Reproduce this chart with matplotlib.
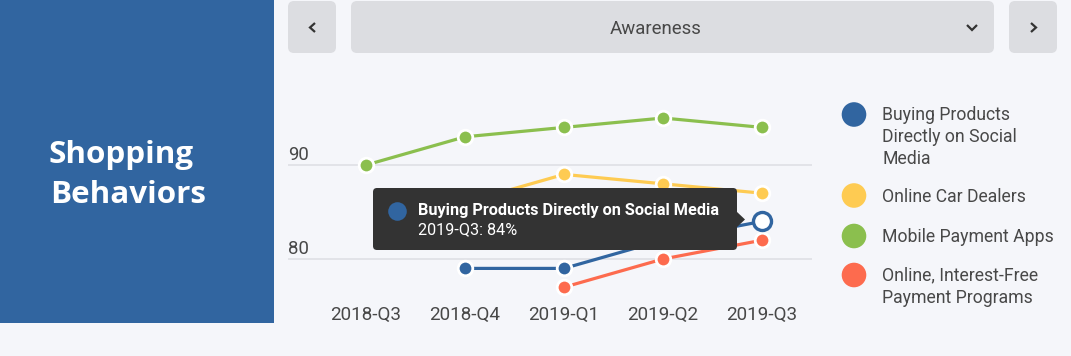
import numpy as np
import matplotlib
matplotlib.use("Agg")
import matplotlib.pyplot as plt
from matplotlib.patches import FancyBboxPatch, Rectangle, Polygon, Circle

# ---------------- data ----------------
quarters = ["2018-Q3", "2018-Q4", "2019-Q1", "2019-Q2", "2019-Q3"]
series_names = ["Buying Products Directly on Social Media", "Online Car Dealers",
                "Mobile Payment Apps", "Online, Interest-Free Payment Programs"]
social_media = [np.nan, 79, 79, 82, 84]
car_dealers = [np.nan, 86, 89, 88, 87]
payment_apps = [90, 93, 94, 95, 94]
interest_free = [np.nan, np.nan, 77, 80, 82]
y_ticks = [80, 90]
legend_lines = [["Buying Products", "Directly on Social", "Media"],
                ["Online Car Dealers"],
                ["Mobile Payment Apps"],
                ["Online, Interest-Free", "Payment Programs"]]
panel_title = ["Shopping", "Behaviors"]
dropdown_label = "Awareness"
tooltip_title = "Buying Products Directly on Social Media"
tooltip_value = "2019-Q3: 84%"
hover_index = 4

# ---------------- style ----------------
BG = "#f5f6fa"
PANEL = "#3165a0"
BTN = "#dcdde1"
TXT = "#484848"
GRID = "#dfe0e5"
colors = ["#3165a0", "#fecb52", "#8bbf4e", "#fd6b4e"]
FONT = "Roboto"

W, H = 1071, 356
fig = plt.figure(figsize=(W / 100, H / 100), dpi=100, facecolor=BG)

# background pixel axes
bg = fig.add_axes([0, 0, 1, 1], zorder=0)
bg.set_xlim(0, W); bg.set_ylim(H, 0); bg.axis("off")
bg.set_facecolor(BG)

# left panel
bg.add_patch(Rectangle((0, 0), 274, 323, facecolor=PANEL, edgecolor="none"))
bg.text(49, 162.5, panel_title[0], color="white", fontsize=22.6, fontweight="bold",
        family="Open Sans", ha="left", va="baseline")
bg.text(50, 203, panel_title[1], color="white", fontsize=22.6, fontweight="bold",
        family="Open Sans", ha="left", va="baseline")

# buttons
def rbox(x0, y0, x1, y1, r=6, color=BTN):
    bg.add_patch(FancyBboxPatch((x0, y0), x1 - x0, y1 - y0,
                                boxstyle=f"round,pad=0,rounding_size={r}",
                                facecolor=color, edgecolor="none"))

rbox(288, 1, 336, 53)
rbox(351, 1, 994, 53)
rbox(1009, 1, 1057, 53)
ck = dict(color="#333333", lw=1.6, solid_capstyle="butt", solid_joinstyle="miter")
bg.plot([315, 310, 315], [23, 27.5, 32], **ck)
bg.plot([1031, 1036, 1031], [23, 27.5, 32], **ck)
bg.plot([967, 972, 977], [25, 30, 25], **ck)
bg.text(656, 34, dropdown_label, color=TXT, fontsize=13.4, family=FONT,
        ha="center", va="baseline")

# ---------------- chart axes ----------------
x0_px, step = 366, 99
gx0, gx1 = 288, 812
ytop, ybot = 85, 300
y90, ppu = 165, 9.4
ax = fig.add_axes([gx0 / W, 1 - ybot / H, (gx1 - gx0) / W, (ybot - ytop) / H], zorder=1)
ax.patch.set_alpha(0)
ax.set_xlim((gx0 - x0_px) / step, (gx1 - x0_px) / step)
ax.set_ylim(90 - (ybot - y90) / ppu, 90 + (y90 - ytop) / ppu)
for s in ax.spines.values():
    s.set_visible(False)
ax.set_yticks([])
ax.set_xticks(range(len(quarters)))
ax.set_xticklabels(quarters, fontsize=13.6, family=FONT, color=TXT)
ax.tick_params(axis="x", length=0, pad=4)
for v in y_ticks:
    ax.axhline(v, color=GRID, lw=1.2, zorder=0)
    ax.annotate(str(v), xy=(0, v), xycoords=("axes fraction", "data"),
                xytext=(0, 3.8), textcoords="offset points", ha="left",
                va="baseline", fontsize=13.4, family=FONT, color=TXT)

xs = np.arange(len(quarters))
all_series = [social_media, car_dealers, payment_apps, interest_free]
draw_order = [2, 1, 0, 3]
for i in draw_order:
    ys = np.array(all_series[i], dtype=float)
    ax.plot(xs, ys, color=colors[i], lw=2.3, zorder=2 + i * 0.1,
            marker="o", markersize=10.5, markerfacecolor=colors[i],
            markeredgecolor="white", markeredgewidth=2.0)

# hovered point
ax.plot([xs[hover_index]], [social_media[hover_index]], marker="o", markersize=13,
        markerfacecolor="white", markeredgecolor=colors[0], markeredgewidth=2.4,
        zorder=4, linestyle="none")

# ---------------- overlay (tooltip + legend) ----------------
ov = fig.add_axes([0, 0, 1, 1], zorder=5)
ov.set_xlim(0, W); ov.set_ylim(H, 0); ov.axis("off")
ov.patch.set_alpha(0)

ov.add_patch(FancyBboxPatch((373, 188), 737 - 373, 250 - 188,
                            boxstyle="round,pad=0,rounding_size=4",
                            facecolor="#333333", edgecolor="none"))
ov.add_patch(Polygon([(736, 211), (745, 219.5), (736, 228)], closed=True,
                     facecolor="#333333", edgecolor="none"))
ov.add_patch(Circle((397.5, 211.5), 9.3, facecolor=colors[0], edgecolor="none"))
ov.text(418.5, 215, tooltip_title, color="white", fontsize=11.7, fontweight="bold",
        family=FONT, ha="left", va="baseline")
ov.text(418.5, 234.5, tooltip_value, color="white", fontsize=11.7,
        family=FONT, ha="left", va="baseline")

legend_circle_y = [114.5, 195.5, 236, 275]
legend_baselines = [[119.5, 141.7, 164], [202], [241.7], [280.7, 302.7]]
for i in range(len(series_names)):
    ov.add_patch(Circle((854, legend_circle_y[i]), 12.3, facecolor=colors[i],
                        edgecolor="none"))
    for line, by in zip(legend_lines[i], legend_baselines[i]):
        ov.text(882.5, by, line, color=TXT, fontsize=12.7, family=FONT,
                ha="left", va="baseline")

fig.savefig("out.png", dpi=100, facecolor=BG)
